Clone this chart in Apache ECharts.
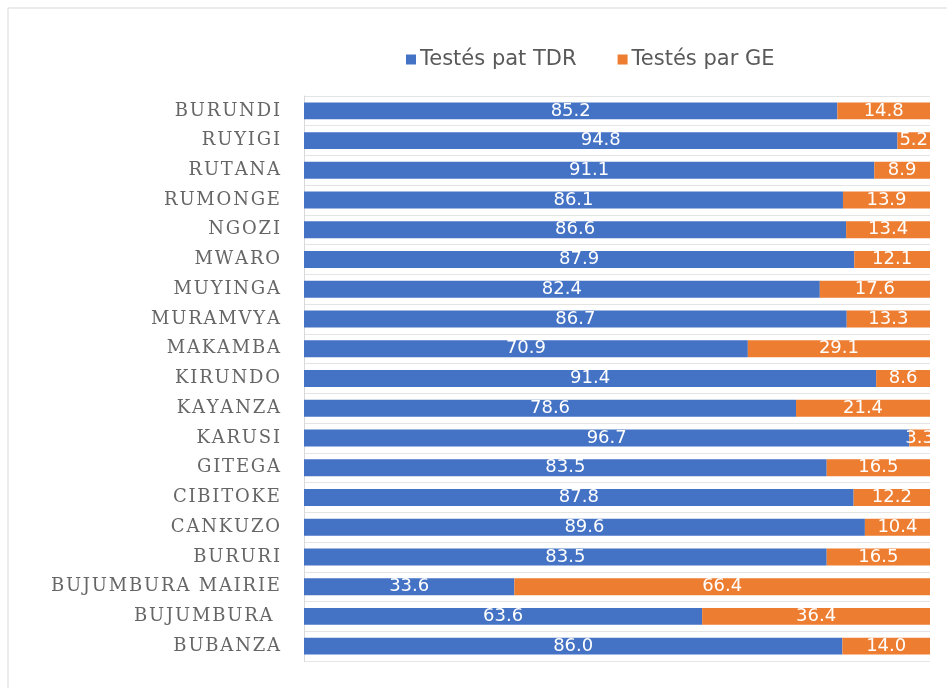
<!DOCTYPE html>
<html>
<head>
<meta charset="utf-8">
<script src="https://cdn.jsdelivr.net/npm/echarts@6/dist/echarts.min.js"></script>
<style>
  html, body { margin: 0; padding: 0; background: #fff; }
  #chart { width: 947px; height: 688px; }
</style>
</head>
<body>
<div id="chart"></div>
<script>
// provinces, bottom to top as ECharts draws the category axis
const provinces = [
  "BUBANZA", "BUJUMBURA ", "BUJUMBURA MAIRIE", "BURURI", "CANKUZO", "CIBITOKE",
  "GITEGA", "KARUSI", "KAYANZA", "KIRUNDO", "MAKAMBA", "MURAMVYA", "MUYINGA",
  "MWARO", "NGOZI", "RUMONGE", "RUTANA", "RUYIGI", "BURUNDI"
];
const tdr = [86.0, 63.6, 33.6, 83.5, 89.6, 87.8, 83.5, 96.7, 78.6, 91.4, 70.9, 86.7, 82.4, 87.9, 86.6, 86.1, 91.1, 94.8, 85.2];
const ge = [14.0, 36.4, 66.4, 16.5, 10.4, 12.2, 16.5, 3.3, 21.4, 8.6, 29.1, 13.3, 17.6, 12.1, 13.4, 13.9, 8.9, 5.2, 14.8];
const seriesNames = ["Testés pat TDR", "Testés par GE"];

const chart = echarts.init(document.getElementById("chart"));

const labelStyle = {
  show: true,
  position: "inside",
  color: "#fff",
  fontFamily: "DejaVu Sans",
  fontSize: 18,
  formatter: p => p.value.toFixed(1)
};

const option = {
  animation: false,
  graphic: [{
    type: "rect",
    shape: { x: 8, y: 8, width: 960, height: 700 },
    style: { fill: "none", stroke: "#d9d9d9", lineWidth: 1 }
  }],
  legend: {
    top: 44,
    left: 401,
    itemWidth: 10,
    itemHeight: 10,
    itemGap: 41,
    icon: "rect",
    textStyle: { fontFamily: "DejaVu Sans", fontSize: 21, color: "#595959", padding: [0, 0, 0, -1] },
    data: seriesNames
  },
  grid: { left: 304, right: 17, top: 96, bottom: 27 },
  xAxis: {
    type: "value",
    min: 0,
    max: 100,
    show: false
  },
  yAxis: {
    type: "category",
    data: provinces,
    axisTick: { show: false },
    axisLine: { lineStyle: { color: "#d9d9d9" } },
    splitLine: { show: true, lineStyle: { color: "#e4e4e4" } },
    axisLabel: {
      margin: 24,
      color: "#666666",
      fontFamily: "DejaVu Serif",
      fontSize: 18,
      formatter: v => v.split("").join("\u200a")
    }
  },
  series: [
    {
      name: seriesNames[0],
      type: "bar",
      stack: "total",
      barWidth: "57%",
      itemStyle: { color: "#4472C4" },
      label: labelStyle,
      data: tdr
    },
    {
      name: seriesNames[1],
      type: "bar",
      stack: "total",
      barWidth: "57%",
      itemStyle: { color: "#ED7D31" },
      label: labelStyle,
      data: ge
    }
  ]
};

chart.setOption(option);
</script>
</body>
</html>
